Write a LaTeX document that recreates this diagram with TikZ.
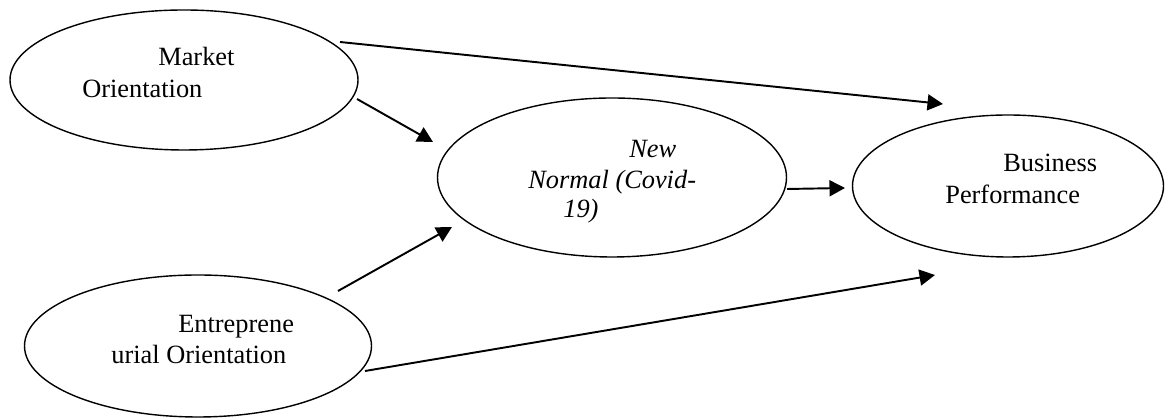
\documentclass[tikz,border=0pt]{standalone}
\usepackage{fontspec}
\setmainfont{Liberation Serif}
\usetikzlibrary{shapes.geometric,arrows.meta}

\begin{document}
\begin{tikzpicture}[
  var/.style={draw,ellipse,line width=0.8pt,inner sep=0pt},
  lbl/.style={anchor=base west,inner sep=0pt,font=\fontsize{15}{18}\selectfont},
  link/.style={line width=1.1pt,-{Triangle[length=0.31cm,width=0.32cm]}}]
\useasboundingbox (0,0) rectangle (23.32,8.38);

\node[var,minimum width=6.96cm,minimum height=2.8cm] (MO) at (3.68,6.78) {};
\node[var,minimum width=6.94cm,minimum height=2.84cm] (EO) at (3.96,1.46) {};
\node[var,minimum width=6.98cm,minimum height=3.18cm] (NN) at (12.24,4.83) {};
\node[var,minimum width=6.22cm,minimum height=2.84cm] (BP) at (20.16,4.66) {};

\node[lbl] (MO1) at (3.16,7.06) {Market};
\node[lbl] (MO2) at (1.64,6.42) {Orientation};
\node[lbl] (EO1) at (3.56,1.72) {Entreprene};
\node[lbl] (EO2) at (2.22,1.10) {urial Orientation};
\node[lbl] (NN1) at (12.58,5.22) {\itshape New};
\node[lbl] (NN2) at (10.56,4.60) {\itshape Normal (Covid-};
\node[lbl] (NN3) at (11.26,4.02) {\itshape 19)};
\node[lbl] (BP1) at (20.06,4.94) {Business};
\node[lbl] (BP2) at (18.90,4.30) {Performance};

\coordinate (MOa) at (6.80,7.54);
\coordinate (MOb) at (7.14,6.40);
\coordinate (EOa) at (6.76,2.56);
\coordinate (EOb) at (7.30,0.96);
\coordinate (NNa) at (15.74,4.60);
\coordinate (NNin1) at (8.66,5.54);
\coordinate (NNin2) at (9.04,3.84);
\coordinate (BPin1) at (18.86,6.30);
\coordinate (BPin2) at (16.90,4.62);
\coordinate (BPin3) at (18.70,2.88);

\draw[link] (MOa) -- (BPin1);
\draw[link] (MOb) -- (NNin1);
\draw[link] (EOa) -- (NNin2);
\draw[link] (EOb) -- (BPin3);
\draw[link] (NNa) -- (BPin2);
\end{tikzpicture}
\end{document}
